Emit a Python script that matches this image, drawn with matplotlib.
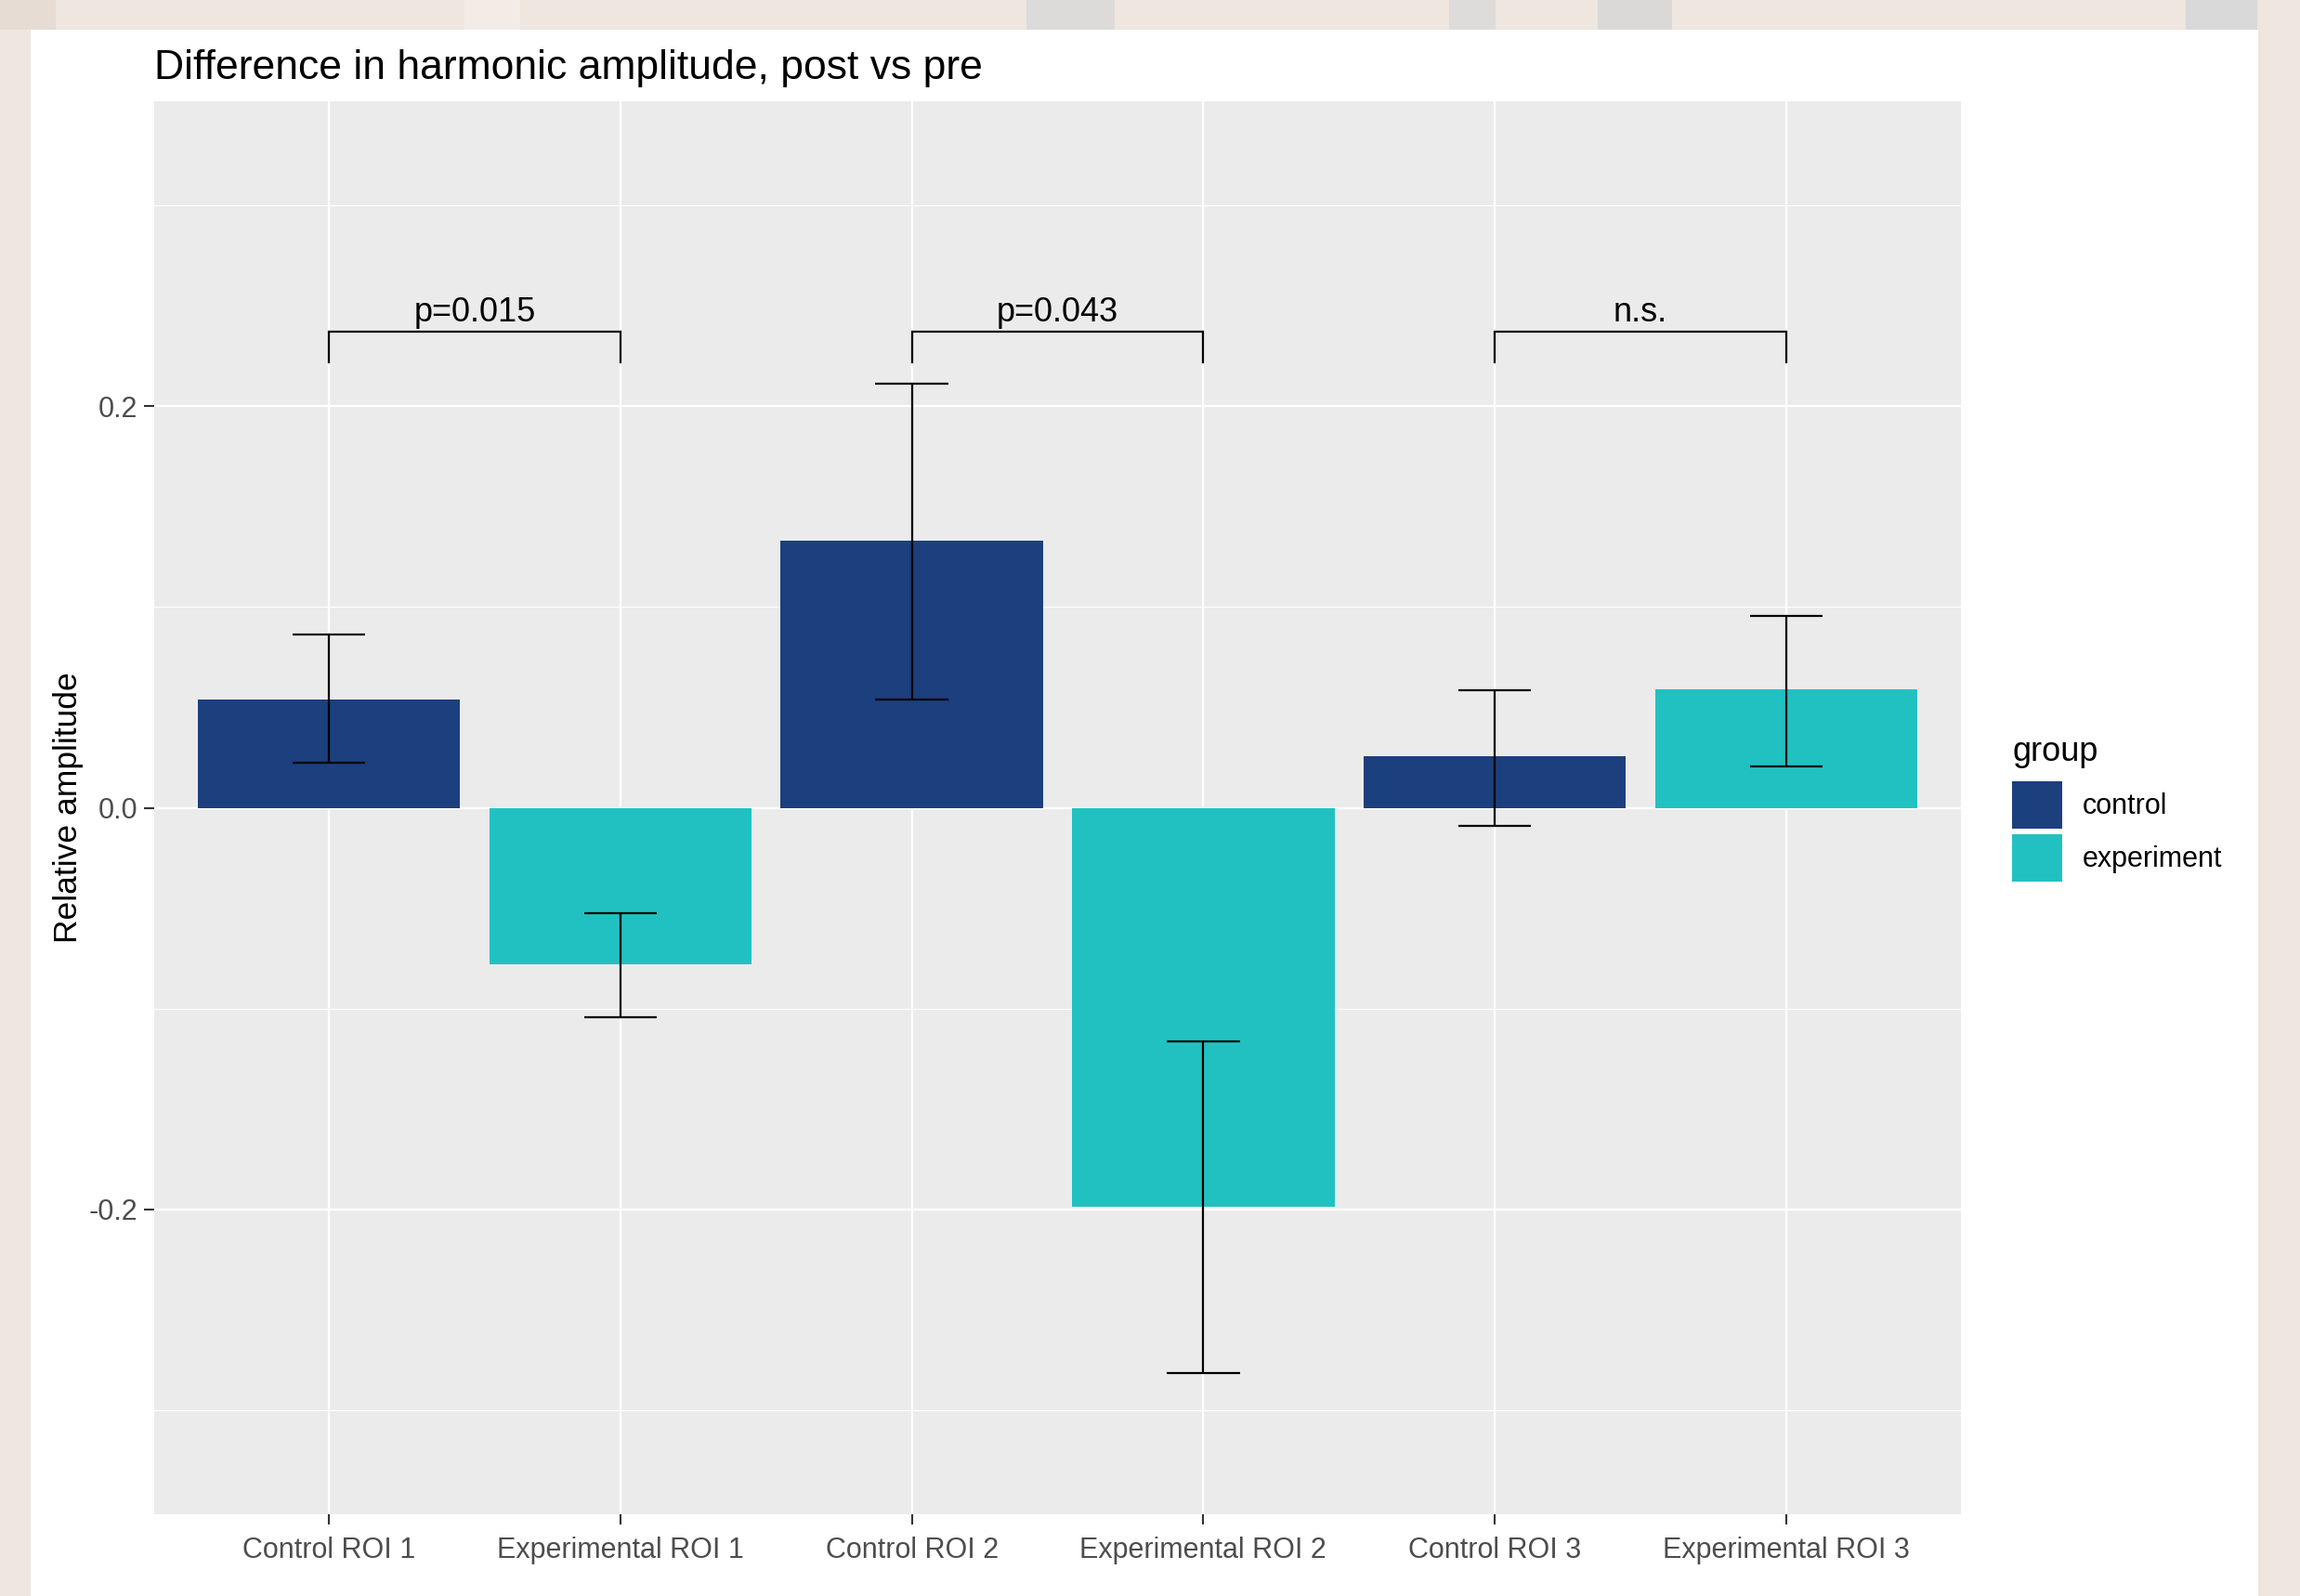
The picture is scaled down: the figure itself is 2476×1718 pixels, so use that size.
import matplotlib
matplotlib.use("Agg")
import matplotlib.pyplot as plt
from matplotlib.patches import Rectangle, Patch
import numpy as np

plt.rcParams['font.family'] = ['Liberation Sans', 'DejaVu Sans']

# ---- data ----
categories = ["Control ROI 1", "Experimental ROI 1", "Control ROI 2",
              "Experimental ROI 2", "Control ROI 3", "Experimental ROI 3"]
groups = ["control", "experiment", "control", "experiment", "control", "experiment"]
values = [0.054, -0.078, 0.133, -0.199, 0.0255, 0.059]
err_low = [0.0225, -0.1046, 0.0541, -0.2815, -0.0088, 0.0205]
err_high = [0.0862, -0.0527, 0.2113, -0.1163, 0.0585, 0.0958]
group_names = ["control", "experiment"]
group_colors = {"control": "#1C3F7D", "experiment": "#22C1C1"}
sig_pairs = [(0, 1), (2, 3), (4, 5)]
sig_labels = ["p=0.015", "p=0.043", "n.s."]
sig_y = 0.237
sig_tip = 0.222
yticks = [-0.2, 0.0, 0.2]
yminor = [-0.3, -0.1, 0.1, 0.3]

W, H = 2476, 1718
fig = plt.figure(figsize=(W / 100, H / 100), dpi=100)
fig.patch.set_facecolor("#EEE6DF")

# textured border approximation
for (x0, x1, c) in [(0, 60, "#E6DCD4"), (500, 560, "#F3ECE6"), (1105, 1200, "#DCDBDA"),
                    (1560, 1610, "#DDDCDB"), (1720, 1800, "#DAD9D8"), (2353, 2430, "#D9D9D9")]:
    fig.patches.append(Rectangle((x0 / W, 1 - 32 / H), (x1 - x0) / W, 32 / H,
                                 transform=fig.transFigure, facecolor=c, edgecolor="none", zorder=-2))
fig.patches.append(Rectangle((33 / W, 0), (2431 - 33) / W, (H - 32) / H,
                             transform=fig.transFigure, facecolor="white", edgecolor="none", zorder=-1))

ax = fig.add_axes([166 / W, 1 - 1630 / H, (2111 - 166) / W, (1630 - 109) / H])
ax.set_facecolor("#EBEBEB")
for s in ax.spines.values():
    s.set_visible(False)

x = np.arange(1, len(categories) + 1)
ax.set_xlim(0.4, 6.6)
ax.set_ylim(-0.352, 0.352)

# grid
ax.set_yticks(yticks)
ax.set_yticks(yminor, minor=True)
ax.set_xticks(x)
ax.grid(True, which="major", color="white", linewidth=1.6, zorder=0)
ax.grid(True, which="minor", axis="y", color="white", linewidth=0.8, zorder=0)
ax.set_axisbelow(True)

ax.set_xticklabels(categories)
ax.set_yticklabels(["-0.2", "0.0", "0.2"])
ax.tick_params(axis="both", which="major", colors="#333333", length=8, width=1.5,
               labelsize=22, labelcolor="#4D4D4D", pad=5)
ax.tick_params(axis="x", which="major", pad=9)
ax.tick_params(axis="y", which="minor", length=0)

colors = [group_colors[g] for g in groups]
ax.bar(x, values, width=0.9, color=colors, zorder=2)

cap = 0.125
ax.vlines(x, err_low, err_high, color="black", linewidth=1.6, zorder=3)
ax.hlines(err_low, x - cap, x + cap, color="black", linewidth=1.6, zorder=3)
ax.hlines(err_high, x - cap, x + cap, color="black", linewidth=1.6, zorder=3)

for (i, j), lab in zip(sig_pairs, sig_labels):
    xi, xj = x[i], x[j]
    ax.plot([xi, xi, xj, xj], [sig_tip, sig_y, sig_y, sig_tip], color="black",
            linewidth=1.6, zorder=3, solid_joinstyle="miter")
    ax.text((xi + xj) / 2, sig_y + 0.0055, lab, ha="center", va="baseline",
            fontsize=26, color="black")

ax.set_ylabel("Relative amplitude", fontsize=25.5, labelpad=4)
ax.set_title("Difference in harmonic amplitude, post vs pre", loc="left",
             fontsize=32, pad=17)

handles = [Patch(facecolor=group_colors[g], edgecolor="none") for g in group_names]
leg = fig.legend(handles, group_names, title="group", loc="upper left",
                 bbox_to_anchor=(2166 / W, 1 - 792 / H), frameon=False,
                 fontsize=22, title_fontsize=26, handlelength=1.77, handleheight=2.19,
                 labelspacing=0.2, handletextpad=0.72, borderpad=0, borderaxespad=0,
                 alignment="left")
leg._legend_box.sep = 10

fig.savefig("out.png", dpi=100, facecolor=fig.get_facecolor())
